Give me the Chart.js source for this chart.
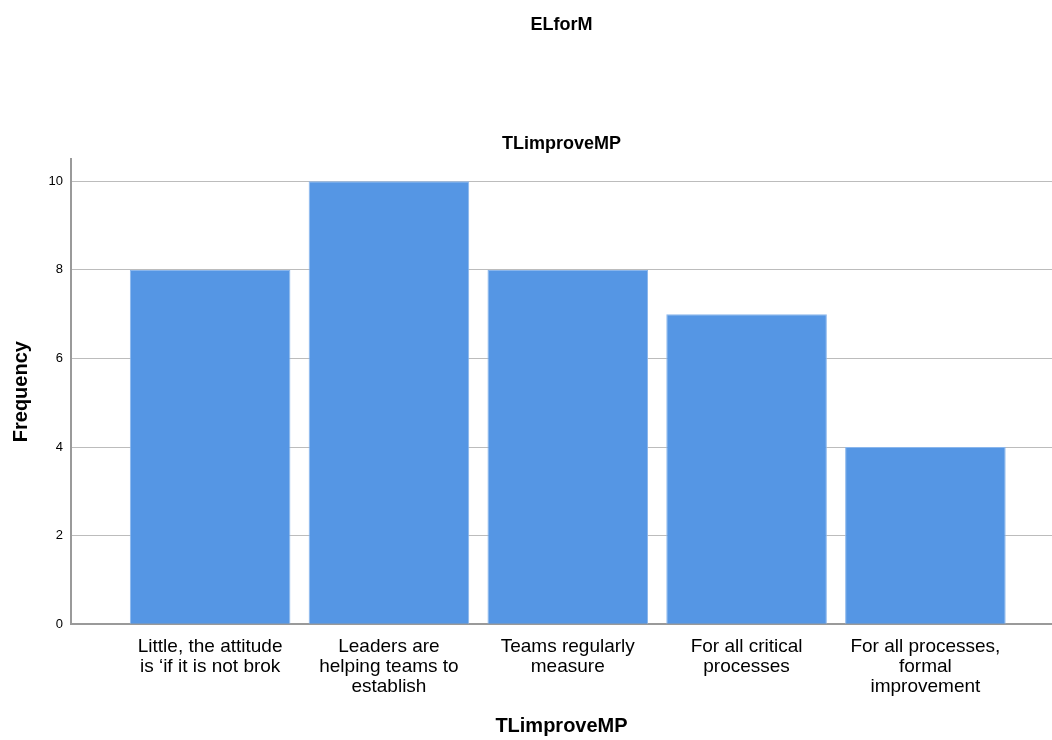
<!DOCTYPE html>
<html>
<head>
<meta charset="utf-8">
<title>ELforM</title>
<script src="https://cdn.jsdelivr.net/npm/chart.js@4/dist/chart.umd.min.js"></script>
<style>
  html, body { margin: 0; padding: 0; background: #fff; }
  #wrap { width: 1052px; height: 740px; }
</style>
</head>
<body>
<div id="wrap"><canvas id="chart" width="1052" height="740"></canvas></div>
<script>
const categories = [
    ['Little, the attitude', 'is \u2018if it is not brok'],
    ['Leaders are', 'helping teams to', 'establish'],
    ['Teams regularly', 'measure'],
    ['For all critical', 'processes'],
    ['For all processes,', 'formal', 'improvement']
];
const frequencies = [8, 10, 8, 7, 4];
const yTicks = [0, 2, 4, 6, 8, 10];

document.addEventListener('DOMContentLoaded', () => {
    const ctx = document.getElementById('chart').getContext('2d');
    const font = "'Liberation Sans', Arial, sans-serif";

    // bars sit on a linear x scale so the first bar can start off the axis
    const points = frequencies.map((v, i) => ({ x: i, y: v }));

    new Chart(ctx, {
        type: 'bar',
        data: {
            datasets: [{
                label: 'Frequency',
                data: points,
                backgroundColor: '#5596e4',
                borderColor: '#8ab6ec',
                borderWidth: 1,
                categoryPercentage: 1,
                barPercentage: 0.898
            }]
        },
        options: {
            responsive: false,
            animation: false,
            layout: { padding: 0 },
            plugins: {
                legend: { display: false },
                tooltip: { enabled: false },
                title: {
                    display: true,
                    text: 'ELforM',
                    fullSize: false,
                    color: '#000',
                    font: { family: font, size: 18, weight: 'bold' },
                    padding: { top: 14, bottom: 90 }
                },
                subtitle: {
                    display: true,
                    text: 'TLimproveMP',
                    fullSize: false,
                    color: '#000',
                    font: { family: font, size: 18, weight: 'bold' },
                    padding: { top: 8, bottom: 4 }
                }
            },
            scales: {
                x: {
                    type: 'linear',
                    offset: false,
                    min: -0.778,
                    max: 4.708,
                    afterBuildTicks: (scale) => {
                        scale.ticks = categories.map((c, i) => ({ value: i }));
                    },
                    ticks: {
                        autoSkip: false,
                        maxRotation: 0,
                        color: '#000',
                        padding: 13,
                        font: { family: font, size: 19, lineHeight: 1.05 },
                        callback: (value) => categories[value]
                    },
                    grid: { display: false, drawTicks: false },
                    border: { display: true, color: '#9a9a9a', width: 2 },
                    title: {
                        display: true,
                        text: 'TLimproveMP',
                        color: '#000',
                        font: { family: font, size: 20, weight: 'bold' },
                        padding: { top: 4, bottom: 2 }
                    }
                },
                y: {
                    min: 0,
                    max: 10.5,
                    afterBuildTicks: (scale) => {
                        scale.ticks = yTicks.map(v => ({ value: v }));
                    },
                    afterFit: (scale) => { scale.width = 71; },
                    ticks: {
                        color: '#000',
                        padding: 8,
                        font: { family: font, size: 13 }
                    },
                    grid: { color: '#bcbcbc', lineWidth: 1, drawTicks: false },
                    border: { display: true, color: '#9a9a9a', width: 2 },
                    title: {
                        display: true,
                        text: 'Frequency',
                        color: '#000',
                        font: { family: font, size: 20, weight: 'bold' },
                        padding: { top: 9, bottom: 0 }
                    }
                }
            }
        }
    });
});
</script>
</body>
</html>
